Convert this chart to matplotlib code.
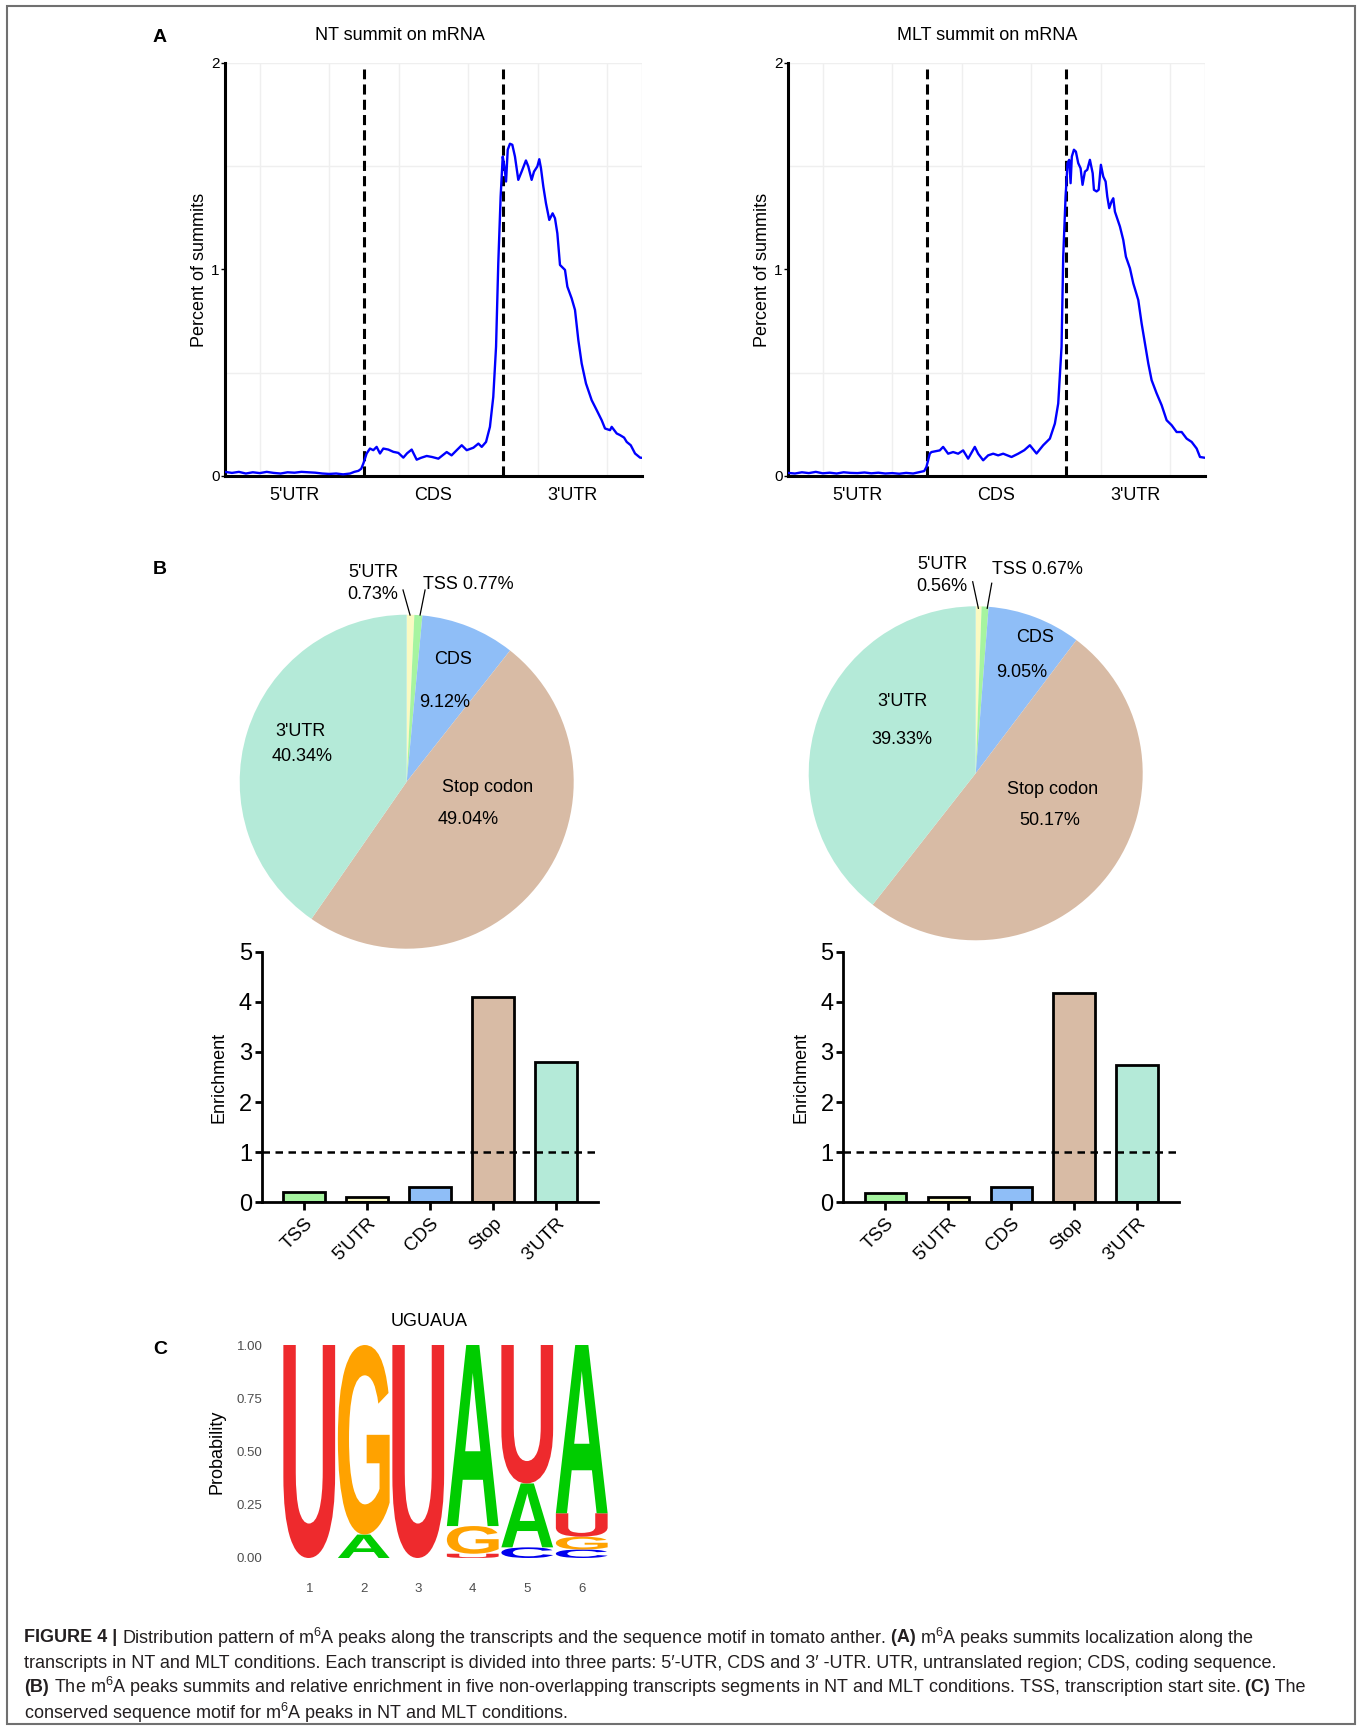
import numpy as np
import matplotlib
matplotlib.use('Agg')
import matplotlib.pyplot as plt
import matplotlib.transforms as mtransforms
from matplotlib.patches import PathPatch, Rectangle
from matplotlib.textpath import TextPath
from matplotlib.font_manager import FontProperties

plt.rcParams['font.family'] = ['Liberation Sans', 'DejaVu Sans']
plt.rcParams['mathtext.fontset'] = 'custom'
plt.rcParams['mathtext.rm'] = 'Liberation Sans'
plt.rcParams['mathtext.it'] = 'Liberation Sans:italic'
plt.rcParams['mathtext.bf'] = 'Liberation Sans:bold'

# ---------------- data ----------------
# panel A: summit density along transcript (0-1 5'UTR, 1-2 CDS, 2-3 3'UTR)
nt_x = [0.00, 0.05, 0.10, 0.15, 0.20, 0.25, 0.30, 0.35, 0.40, 0.45, 0.50, 0.55, 0.60, 0.65,
        0.70, 0.75, 0.80, 0.85, 0.90, 0.93, 0.96, 0.98,
        0.995, 1.019, 1.043, 1.067, 1.091, 1.115, 1.139, 1.175, 1.211, 1.247, 1.283, 1.310,
        1.343, 1.379, 1.410, 1.451, 1.490, 1.535, 1.565, 1.595, 1.630, 1.667, 1.703, 1.739,
        1.787, 1.823, 1.847, 1.878, 1.906, 1.930, 1.950, 1.966, 1.983, 1.998, 2.010, 2.022,
        2.034, 2.050, 2.067, 2.086, 2.110, 2.134, 2.165, 2.182, 2.206, 2.223, 2.247, 2.261,
        2.273, 2.290, 2.309, 2.333, 2.357, 2.374, 2.391, 2.410, 2.446, 2.463, 2.494, 2.518,
        2.542, 2.566, 2.597, 2.638, 2.674, 2.710, 2.734, 2.770, 2.782, 2.818, 2.842, 2.871,
        2.890, 2.919, 2.950, 2.986, 3.000]
nt_y = [0.020, 0.015, 0.020, 0.012, 0.018, 0.014, 0.020, 0.015, 0.012, 0.018, 0.016, 0.020, 0.018, 0.016,
        0.012, 0.010, 0.012, 0.008, 0.012, 0.020, 0.025, 0.035,
        0.060, 0.109, 0.133, 0.125, 0.141, 0.109, 0.133, 0.128, 0.117, 0.112, 0.089, 0.110,
        0.128, 0.079, 0.088, 0.097, 0.092, 0.084, 0.100, 0.116, 0.100, 0.125, 0.149, 0.125,
        0.137, 0.157, 0.141, 0.165, 0.238, 0.383, 0.626, 1.030, 1.353, 1.547, 1.499, 1.426,
        1.580, 1.609, 1.604, 1.547, 1.434, 1.474, 1.528, 1.499, 1.434, 1.474, 1.499, 1.534,
        1.491, 1.402, 1.321, 1.240, 1.272, 1.248, 1.175, 1.022, 0.998, 0.917, 0.860, 0.804,
        0.658, 0.545, 0.448, 0.367, 0.319, 0.270, 0.230, 0.222, 0.238, 0.206, 0.198, 0.186,
        0.165, 0.149, 0.109, 0.089, 0.088]

mlt_x = [0.00, 0.05, 0.10, 0.15, 0.20, 0.25, 0.30, 0.35, 0.40, 0.45, 0.50, 0.55, 0.60, 0.65,
         0.70, 0.75, 0.80, 0.85, 0.90, 0.94, 0.98,
         0.996, 1.020, 1.032, 1.092, 1.116, 1.152, 1.188, 1.224, 1.260, 1.296, 1.344, 1.368,
         1.404, 1.440, 1.476, 1.512, 1.548, 1.608, 1.656, 1.700, 1.740, 1.788, 1.836, 1.884,
         1.920, 1.944, 1.968, 1.980, 1.997, 2.011, 2.023, 2.033, 2.042, 2.057, 2.071, 2.088,
         2.105, 2.119, 2.136, 2.153, 2.172, 2.192, 2.201, 2.220, 2.235, 2.251, 2.268, 2.285,
         2.297, 2.311, 2.328, 2.340, 2.352, 2.364, 2.388, 2.412, 2.431, 2.460, 2.484, 2.520,
         2.544, 2.568, 2.592, 2.616, 2.652, 2.688, 2.724, 2.760, 2.796, 2.832, 2.868, 2.904,
         2.940, 2.964, 2.993]
mlt_y = [0.015, 0.012, 0.018, 0.014, 0.020, 0.013, 0.016, 0.012, 0.018, 0.015, 0.014, 0.017, 0.013, 0.016,
         0.012, 0.014, 0.011, 0.015, 0.012, 0.018, 0.024,
         0.044, 0.108, 0.116, 0.124, 0.141, 0.108, 0.116, 0.108, 0.124, 0.084, 0.141, 0.108,
         0.076, 0.100, 0.108, 0.100, 0.108, 0.092, 0.108, 0.125, 0.149, 0.109, 0.149, 0.181,
         0.254, 0.351, 0.626, 1.062, 1.353, 1.515, 1.531, 1.418, 1.547, 1.580, 1.571, 1.515,
         1.490, 1.410, 1.474, 1.483, 1.531, 1.466, 1.386, 1.378, 1.386, 1.507, 1.450, 1.426,
         1.353, 1.297, 1.330, 1.345, 1.280, 1.256, 1.208, 1.143, 1.062, 1.006, 0.933, 0.852,
         0.739, 0.642, 0.545, 0.464, 0.400, 0.343, 0.270, 0.246, 0.213, 0.213, 0.181, 0.165,
         0.133, 0.092, 0.089]

region_labels = ["5'UTR", "CDS", "3'UTR"]

# panel B: pie fractions (%) and enrichment
pie_names = ["5'UTR", "TSS", "CDS", "Stop codon", "3'UTR"]
pie_colors = ['#FAFAC2', '#A6F4A0', '#8FBEF7', '#D8BBA5', '#B4EAD8']
nt_pie = [0.73, 0.77, 9.12, 49.04, 40.34]
mlt_pie = [0.56, 0.67, 9.05, 50.17, 39.33]

bar_names = ['TSS', "5'UTR", 'CDS', 'Stop', "3'UTR"]
bar_colors = ['#A6F4A0', '#FAFAC2', '#8FBEF7', '#D8BBA5', '#B4EAD8']
nt_enrich = [0.20, 0.10, 0.30, 4.09, 2.79]
mlt_enrich = [0.19, 0.10, 0.30, 4.18, 2.73]

# panel C: motif probabilities per position
motif_pos = [1, 2, 3, 4, 5, 6]
prob_U = [1.00, 0.00, 1.00, 0.02, 0.65, 0.11]
prob_G = [0.00, 0.89, 0.00, 0.13, 0.00, 0.06]
prob_A = [0.00, 0.11, 0.00, 0.85, 0.30, 0.79]
prob_C = [0.00, 0.00, 0.00, 0.00, 0.05, 0.04]
base_colors = {'U': '#EE2A2D', 'G': '#FFA200', 'A': '#00CC00', 'C': '#0000EE'}

# ---------------- figure ----------------
W, H = 1362, 1729
fig = plt.figure(figsize=(W / 100, H / 100), dpi=100)


def px_axes(l, t, r, b):
    return fig.add_axes([l / W, 1 - b / H, (r - l) / W, (b - t) / H])


def fig_text(x, y, s, **kw):
    return fig.text(x / W, 1 - y / H, s, **kw)


fig.patches.append(Rectangle((7 / W, 1 - 1724 / H), 1348 / W, 1718 / H, transform=fig.transFigure,
                             fill=False, edgecolor='#707070', lw=1.5))

# ---- panel A ----
def summit_panel(ax, xs, ys):
    for gx in [0.25, 0.75, 1.25, 1.75, 2.25, 2.75, 3.0]:
        ax.axvline(gx, color='#EFEFEF', lw=1, zorder=0)
    for gy in [0.5, 1.5, 2.0]:
        ax.axhline(gy, color='#EFEFEF', lw=1, zorder=0)
    for dx in [1, 2]:
        ax.plot([dx, dx], [0, 1.97], color='black', lw=2.2, ls=(0, (3.3, 1.7)), zorder=2)
    ax.plot(xs, ys, color='#0000FF', lw=1.7, zorder=3)
    ax.set_xlim(0, 3)
    ax.set_ylim(0, 2)
    ax.set_yticks([0, 1, 2])
    ax.set_yticklabels(['0', '1', '2'], fontsize=11)
    ax.tick_params(axis='y', length=3, width=1, pad=1)
    ax.set_xticks([0.5, 1.5, 2.5])
    ax.set_xticklabels(region_labels, fontsize=13)
    ax.tick_params(axis='x', length=0, pad=8)
    for s in ['top', 'right']:
        ax.spines[s].set_visible(False)
    for s in ['left', 'bottom']:
        ax.spines[s].set_linewidth(2.2)
    ax.set_ylabel('Percent of summits', fontsize=13, labelpad=2)


axA1 = px_axes(225, 63, 642, 476)
summit_panel(axA1, nt_x, nt_y)
axA2 = px_axes(788, 63, 1205, 476)
summit_panel(axA2, mlt_x, mlt_y)
fig_text(400, 35, 'NT summit on mRNA', fontsize=13, ha='center', va='center')
fig_text(987, 35, 'MLT summit on mRNA', fontsize=13, ha='center', va='center')
fig_text(160, 38, 'A', fontsize=14, fontweight='bold', ha='center', va='center')

# ---- panel B pies ----
def pie_panel(cx, cy, r, vals, labels_pos, leaders):
    ax = px_axes(cx - r, cy - r, cx + r, cy + r)
    ax.pie(vals, colors=pie_colors, startangle=90, counterclock=False,
           wedgeprops=dict(linewidth=0))
    ax.set_xlim(-1, 1)
    ax.set_ylim(-1, 1)
    ax.set_aspect('equal')
    for (tx, ty, s) in labels_pos:
        ax.text(tx, ty, s, fontsize=13, ha='center', va='center', clip_on=False)
    for (x0, y0, x1, y1) in leaders:
        ax.plot([x0, x1], [y0, y1], color='black', lw=0.9, clip_on=False)
    return ax


pie_panel(406.7, 781.7, 167, nt_pie,
          [(0.277, 0.729, 'CDS'), (0.229, 0.477, '%.2f%%' % nt_pie[2]),
           (-0.639, 0.298, "3'UTR"), (-0.627, 0.148, '%.2f%%' % nt_pie[4]),
           (0.487, -0.032, 'Stop codon'), (0.367, -0.229, '%.2f%%' % nt_pie[3]),
           (-0.202, 1.251, "5'UTR"), (-0.202, 1.119, '%.2f%%' % nt_pie[0]),
           (0.367, 1.178, 'TSS %.2f%%' % nt_pie[1])],
          [(-0.022, 1.148, 0.020, 0.998), (0.110, 1.148, 0.080, 0.998)])
pie_panel(975.7, 773.3, 167, mlt_pie,
          [(0.355, 0.816, 'CDS'), (0.277, 0.601, '%.2f%%' % mlt_pie[2]),
           (-0.436, 0.427, "3'UTR"), (-0.442, 0.200, '%.2f%%' % mlt_pie[4]),
           (0.463, -0.100, 'Stop codon'), (0.445, -0.280, '%.2f%%' % mlt_pie[3]),
           (-0.202, 1.253, "5'UTR"), (-0.202, 1.121, '%.2f%%' % mlt_pie[0]),
           (0.367, 1.222, 'TSS %.2f%%' % mlt_pie[1])],
          [(-0.018, 1.147, 0.016, 0.988), (0.096, 1.138, 0.069, 0.988)])
fig_text(160, 570, 'B', fontsize=14, fontweight='bold', ha='center', va='center')

# ---- panel B bars ----
def enrich_panel(ax, vals):
    xpos = np.arange(len(bar_names))
    ax.bar(xpos, vals, width=0.66, color=bar_colors, edgecolor='black', linewidth=2, zorder=2)
    ax.axhline(1, color='black', lw=1.8, ls=(0, (3, 2.2)), zorder=3)
    ax.set_xlim(-0.67, 4.67)
    ax.set_ylim(0, 5)
    ax.set_yticks([0, 1, 2, 3, 4, 5])
    ax.tick_params(axis='y', labelsize=17, length=5, width=2, pad=2)
    ax.set_xticks(xpos)
    ax.set_xticklabels(bar_names, rotation=45, ha='right', va='top', rotation_mode='anchor', fontsize=13.5)
    ax.tick_params(axis='x', length=6, width=2, pad=3)
    for s in ['top', 'right']:
        ax.spines[s].set_visible(False)
    for s in ['left', 'bottom']:
        ax.spines[s].set_linewidth(2)
    ax.set_ylabel('Enrichment', fontsize=13, labelpad=8)


enrich_panel(px_axes(261.7, 951.7, 598, 1202.3), nt_enrich)
enrich_panel(px_axes(843.3, 951.7, 1179.3, 1202.3), mlt_enrich)

# ---- panel C motif logo ----
axC = px_axes(282, 1345, 609, 1558)
logo_font = FontProperties(family='Liberation Sans', weight='bold')


def draw_letter(ax, ch, xc, y0, h, color, width=0.95):
    tp = TextPath((0, 0), ch, size=1, prop=logo_font)
    ext = tp.get_extents()
    tr = (mtransforms.Affine2D().translate(-ext.x0, -ext.y0)
          .scale(width / ext.width, h / ext.height).translate(xc - width / 2, y0))
    ax.add_patch(PathPatch(tr.transform_path(tp), facecolor=color, edgecolor='none'))


probs = {'U': prob_U, 'G': prob_G, 'A': prob_A, 'C': prob_C}
for i, pos in enumerate(motif_pos):
    stack = sorted([(probs[b][i], b) for b in probs if probs[b][i] > 0])
    bottom = 0
    for p, b in stack:
        draw_letter(axC, b, pos, bottom, p, base_colors[b])
        bottom += p

axC.set_xlim(0.5, 6.5)
axC.set_ylim(0, 1)
axC.set_xticks(motif_pos)
axC.set_xticklabels([str(p) for p in motif_pos])
axC.set_yticks([0, 0.25, 0.5, 0.75, 1.0])
axC.set_yticklabels(['0.00', '0.25', '0.50', '0.75', '1.00'])
axC.tick_params(axis='both', length=0, labelsize=9.5, labelcolor='#4D4D4D')
axC.tick_params(axis='x', pad=18)
axC.tick_params(axis='y', pad=14)
for s in axC.spines.values():
    s.set_visible(False)
axC.set_ylabel('Probability', fontsize=13, labelpad=8)
fig_text(429, 1322, 'UGUAUA', fontsize=13, ha='center', va='center')
fig_text(160, 1350, 'C', fontsize=14, fontweight='bold', ha='center', va='center')

# ---- caption ----
renderer = fig.canvas.get_renderer()
cap_color = '#231F20'
caption = [
    (1638, [("FIGURE 4 | ", True),
            ("Distribution pattern of m$^{6}$A peaks along the transcripts and the sequence motif in tomato anther.", False),
            (" (A)", True), (" m$^{6}$A peaks summits localization along the", False)]),
    (1663, [("transcripts in NT and MLT conditions. Each transcript is divided into three parts: 5\u2032-UTR, CDS and 3\u2032 -UTR. UTR, untranslated region; CDS, coding sequence.", False)]),
    (1687, [("(B)", True),
            (" The m$^{6}$A peaks summits and relative enrichment in five non-overlapping transcripts segments in NT and MLT conditions. TSS, transcription start site.", False),
            (" (C)", True), (" The", False)]),
    (1713, [("conserved sequence motif for m$^{6}$A peaks in NT and MLT conditions.", False)]),
]
for y, parts in caption:
    x = 24
    for s, bold in parts:
        t = fig_text(x, y, s, fontsize=13, fontweight='bold' if bold else 'normal',
                     ha='left', va='center', color=cap_color)
        x += t.get_window_extent(renderer).width

fig.savefig('out.png', dpi=100)
